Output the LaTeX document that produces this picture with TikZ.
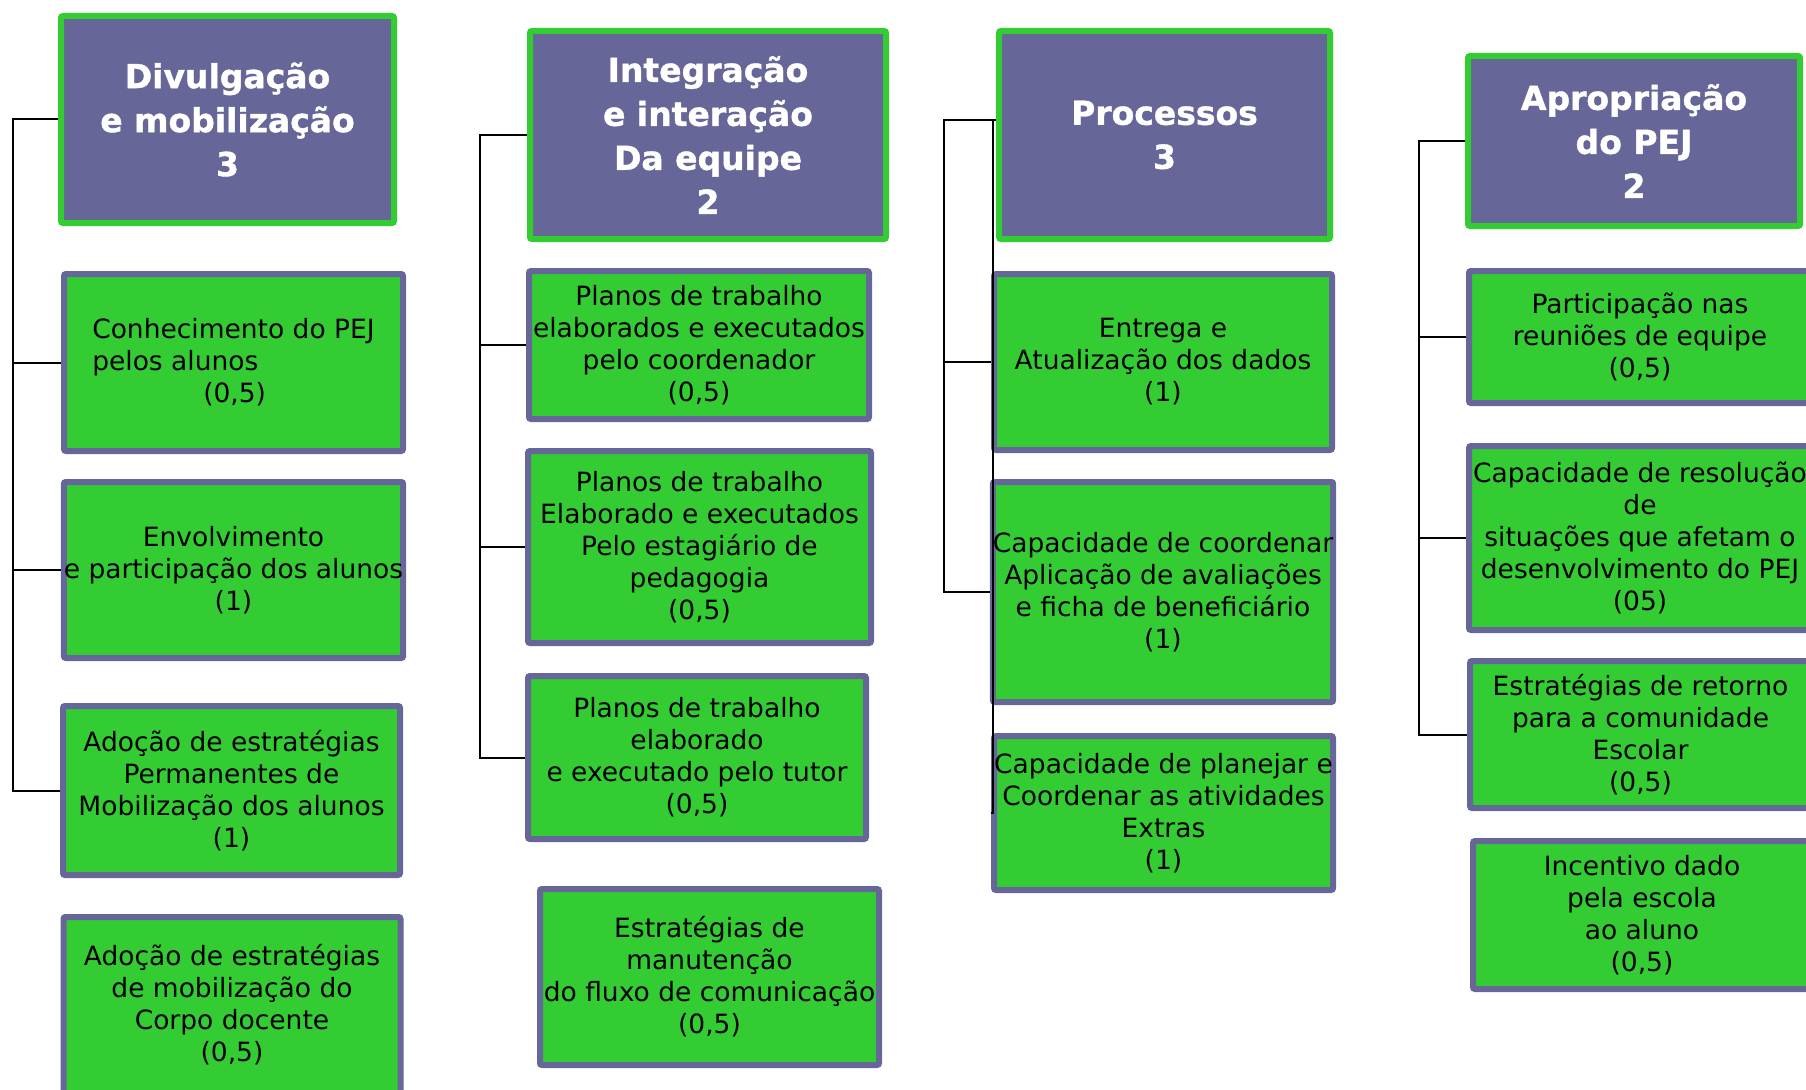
\documentclass[tikz,border=0pt]{standalone}
\usepackage{fontspec}
\setmainfont{DejaVu Sans}
\newfontfamily\headfont[BoldFeatures={FakeBold=1.2}]{DejaVu Sans}
\usepackage{xcolor}
\usepackage{tikz}
\usetikzlibrary{positioning, calc}
\tikzset{
	headbox/.style={draw=LeafGreen, fill=SlatePurple, line width=6pt, rounded corners=2pt,
		text=white, align=center, inner sep=0pt, font=\fontsize{33}{44}\selectfont\headfont\bfseries},
	leafbox/.style={draw=SlatePurple, fill=LeafGreen, line width=6pt, rounded corners=2pt,
		text=black, align=center, inner sep=0pt, font=\fontsize{26.5}{32}\selectfont},
	branch/.style={draw=black, line width=2pt},
}
\definecolor{SlatePurple}{RGB}{102, 102, 153}
\definecolor{LeafGreen}{RGB}{51, 204, 51}

\begin{document}
\begin{tikzpicture}[x=1pt, y=-1pt]
		\useasboundingbox (0,0) rectangle (1806,1089);

		% Divulgacao
		\node[headbox, minimum width=333pt, minimum height=207pt] (h1) at (227.5,119.5) {Divulgação\\e mobilização\\3};
		\node[leafbox, align=left, minimum width=339pt, minimum height=177pt] (a1) at (233.5,362.5) {Conhecimento do PEJ\\pelos alunos\\\hspace*{111pt}(0,5)};
		\node[leafbox, minimum width=339pt, minimum height=176pt] (a2) at (233.5,570) {Envolvimento\\e participação dos alunos\\(1)};
		\node[leafbox, minimum width=337pt, minimum height=169pt] (a3) at (231.5,790.5) {Adoção de estratégias\\Permanentes de\\Mobilização dos alunos\\(1)};
		\node[leafbox, minimum width=337pt, minimum height=176pt] (a4) at (232,1005) {Adoção de estratégias\\de mobilização do\\Corpo docente\\(0,5)};

		% Integracao
		\node[headbox, minimum width=356pt, minimum height=208pt] (h2) at (708,135) {Integração\\e interação\\Da equipe\\2};
		\node[leafbox, minimum width=340pt, minimum height=148pt] (b1) at (699,345) {Planos de trabalho\\elaborados e executados\\pelo coordenador\\(0,5)};
		\node[leafbox, minimum width=343pt, minimum height=192pt] (b2) at (699.5,547) {Planos de trabalho\\Elaborado e executados\\Pelo estagiário de\\pedagogia\\(0,5)};
		\node[leafbox, minimum width=338pt, minimum height=163pt] (b3) at (697,757.5) {Planos de trabalho\\elaborado\\e executado pelo tutor\\(0,5)};
		\node[leafbox, minimum width=339pt, minimum height=176pt] (b4) at (709.5,977) {Estratégias de\\manutenção\\do fluxo de comunicação\\(0,5)};

		% Processos
		\node[headbox, minimum width=331pt, minimum height=208pt] (h3) at (1164.5,135) {Processos\\3};
		\node[leafbox, minimum width=338pt, minimum height=176pt] (c1) at (1163,362) {Entrega e\\Atualização dos dados\\(1)};
		\node[leafbox, minimum width=338pt, minimum height=220pt] (c2) at (1163,592) {Capacidade de coordenar\\Aplicação de avaliações\\ e ficha de beneficiário\\(1)};
		\node[leafbox, minimum width=339pt, minimum height=154pt] (c3) at (1163.5,813) {Capacidade de planejar e\\Coordenar as atividades\\Extras\\(1)};

		% Apropriacao
		\node[headbox, minimum width=332pt, minimum height=170pt] (h4) at (1634,141) {Apropriação\\do PEJ\\2};
		\node[leafbox, minimum width=342pt, minimum height=132pt] (d1) at (1640,337) {Participação nas\\reuniões de equipe\\(0,5)};
		\node[leafbox, minimum width=342pt, minimum height=184pt] (d2) at (1640,538) {Capacidade de resolução\\de\\ situações que afetam o\\desenvolvimento do PEJ\\(05)};
		\node[leafbox, minimum width=341pt, minimum height=147pt] (d3) at (1640.5,734.5) {Estratégias de retorno\\para a comunidade\\Escolar\\(0,5)};
		\node[leafbox, minimum width=338pt, minimum height=148pt] (d4) at (1642,915) {Incentivo dado\\pela escola\\ ao aluno\\(0,5)};

		% ligacoes
		\coordinate (t1) at (13,119.5);
		\draw[branch] (h1.west) -- (t1) |- (a3.west);
		\foreach \n in {a1,a2}
		\draw[branch] (t1 |- \n.west) -- (\n.west);

		\coordinate (t2) at (480,135);
		\draw[branch] (h2.west) -- (t2) |- (b3.west);
		\foreach \n in {b1,b2}
		\draw[branch] (t2 |- \n.west) -- (\n.west);

		\coordinate (t3) at (944,120);
		\coordinate (s3) at (993,120);
		\draw[branch] ([yshift=15pt]h3.west) -- (t3) |- (c2.west);
		\draw[branch] (t3 |- c1.west) -- (c1.west);
		\draw[branch] (s3) -- (s3 |- c3.west) -- (c3.west);

		\coordinate (t4) at (1419,141);
		\draw[branch] (h4.west) -- (t4) |- (d3.west);
		\foreach \n in {d1,d2}
		\draw[branch] (t4 |- \n.west) -- (\n.west);
\end{tikzpicture}
\end{document}
